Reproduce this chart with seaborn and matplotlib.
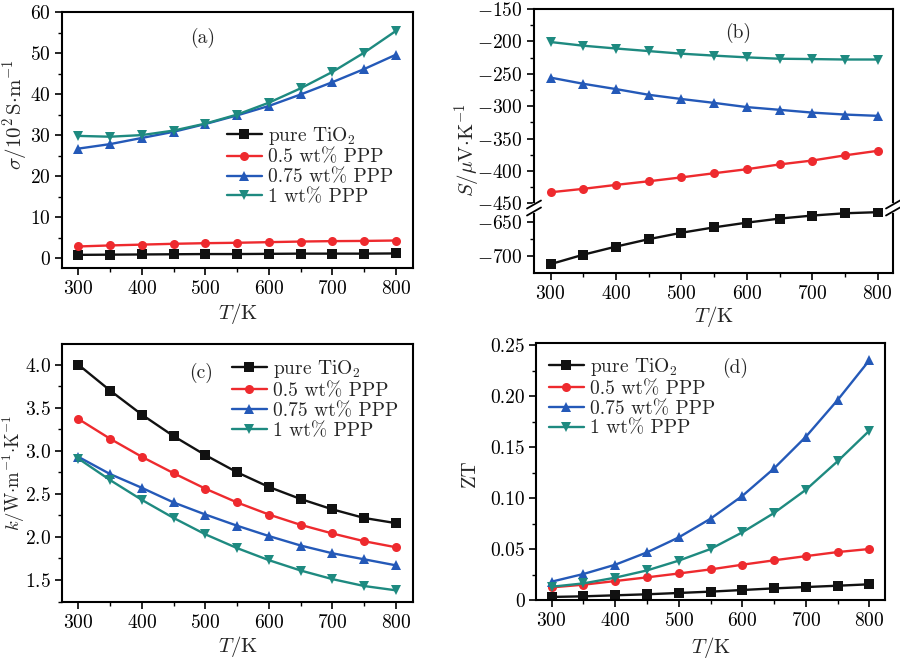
import numpy as np
import pandas as pd
import matplotlib
matplotlib.use("Agg")
import matplotlib.pyplot as plt
from matplotlib.ticker import MultipleLocator, FixedLocator, FixedFormatter
import seaborn as sns

# ---------------- data ----------------
T = [300, 350, 400, 450, 500, 550, 600, 650, 700, 750, 800]
samples = ["pure TiO$_2$", "0.5 wt% PPP", "0.75 wt% PPP", "1 wt% PPP"]

sigma_pure = [0.8, 0.85, 0.9, 0.95, 1.0, 1.0, 1.05, 1.1, 1.1, 1.1, 1.15]
sigma_05 = [2.85, 3.1, 3.3, 3.5, 3.65, 3.75, 3.9, 4.05, 4.15, 4.2, 4.3]
sigma_075 = [26.7, 27.8, 29.3, 30.8, 32.7, 34.8, 37.1, 39.9, 42.9, 46.1, 49.6]
sigma_1 = [29.8, 29.6, 30.0, 31.1, 32.8, 35.0, 37.9, 41.4, 45.4, 50.1, 55.4]

S_pure = [-712, -698, -686, -675, -665.5, -657.5, -650.5, -644.5, -640, -636.6, -635]
S_05 = [-433, -427.7, -421.6, -416, -410, -403.6, -397.4, -390, -384, -376, -369]
S_075 = [-256, -265.5, -273.7, -282.5, -289, -295, -301.5, -305.7, -310, -313, -315]
S_1 = [-201, -206.7, -211, -215, -219, -222, -224.7, -226.8, -227.3, -228, -228]

k_pure = [4.0, 3.70, 3.42, 3.17, 2.95, 2.75, 2.58, 2.44, 2.32, 2.22, 2.16]
k_05 = [3.37, 3.14, 2.93, 2.74, 2.56, 2.40, 2.26, 2.14, 2.04, 1.95, 1.88]
k_075 = [2.93, 2.73, 2.57, 2.40, 2.26, 2.13, 2.01, 1.90, 1.81, 1.74, 1.67]
k_1 = [2.91, 2.66, 2.43, 2.22, 2.03, 1.87, 1.73, 1.61, 1.51, 1.43, 1.38]

ZT_pure = [0.003, 0.0036, 0.0046, 0.0056, 0.0069, 0.0082, 0.0098, 0.0114, 0.0127, 0.014, 0.0154]
ZT_05 = [0.0124, 0.015, 0.0186, 0.0222, 0.026, 0.030, 0.0346, 0.0389, 0.043, 0.047, 0.050]
ZT_075 = [0.018, 0.0255, 0.0346, 0.0467, 0.0614, 0.0797, 0.102, 0.129, 0.160, 0.196, 0.235]
ZT_1 = [0.013, 0.0163, 0.0219, 0.029, 0.0386, 0.050, 0.0663, 0.0853, 0.108, 0.136, 0.166]

zt_ticks = [0, 0.05, 0.10, 0.15, 0.20, 0.25]
zt_ticklabels = ["0", "0.05", "0.10", "0.15", "0.20", "0.25"]

# ---------------- style ----------------
sns.set_theme(style="ticks")
plt.rcParams.update({
    "font.family": ["cmr10", "DejaVu Serif"],
    "mathtext.fontset": "cm",
    "axes.formatter.use_mathtext": True,
    "axes.unicode_minus": True,
    "axes.linewidth": 1.5,
    "axes.edgecolor": "black",
    "xtick.color": "black",
    "ytick.color": "black",
    "xtick.labelsize": 14,
    "ytick.labelsize": 14,
    "axes.labelsize": 15,
    "xtick.major.size": 5,
    "ytick.major.size": 5,
    "xtick.minor.size": 3,
    "ytick.minor.size": 3,
    "xtick.major.width": 1.2,
    "ytick.major.width": 1.2,
    "xtick.minor.width": 1.0,
    "ytick.minor.width": 1.0,
    "xtick.direction": "out",
    "ytick.direction": "out",
    "xtick.major.pad": 4,
    "ytick.major.pad": 3,
})

colors = ["#111111", "#ee2a2e", "#2459b8", "#1e8a80"]
palette = dict(zip(samples, colors))
markers = dict(zip(samples, ["s", "o", "^", "v"]))


def long_df(series):
    rows = []
    for name, vals in zip(samples, series):
        for t, v in zip(T, vals):
            rows.append({"T": t, "v": v, "sample": name})
    return pd.DataFrame(rows)


def draw(ax, df, legend=False):
    sns.lineplot(data=df, x="T", y="v", hue="sample", style="sample",
                 hue_order=samples, style_order=samples, palette=palette,
                 markers=markers, dashes=False, markersize=6.5,
                 markeredgewidth=0, linewidth=1.7, ax=ax, legend=legend)


def xstyle(ax, xlim):
    ax.set_xlim(*xlim)
    ax.xaxis.set_major_locator(MultipleLocator(100))
    ax.xaxis.set_minor_locator(MultipleLocator(50))
    ax.tick_params(top=False, right=False, which="both")


W, H = 900, 660
fig = plt.figure(figsize=(9, 6.6), dpi=100)


def rect(l, r, t, b):
    return [l / W, 1 - b / H, (r - l) / W, (b - t) / H]


def leg(ax, x, y):
    ax.legend(loc="upper left", bbox_to_anchor=(x, y), frameon=False,
              fontsize=14, handlelength=1.8, handletextpad=0.3,
              labelspacing=0.1, borderpad=0, borderaxespad=0)


# (a)
axa = fig.add_axes(rect(62, 413, 12, 268))
draw(axa, long_df([sigma_pure, sigma_05, sigma_075, sigma_1]), legend=True)
xstyle(axa, (274.3, 826.8))
axa.set_ylim(-2.4, 60)
axa.yaxis.set_major_locator(MultipleLocator(10))
axa.yaxis.set_minor_locator(MultipleLocator(5))
axa.set_xlabel(r"$T/\mathrm{K}$")
axa.set_ylabel(r"$\sigma/10^2\,\mathrm{S{\cdot}m^{-1}}$")
axa.xaxis.set_label_coords(0.5, -0.13)
axa.yaxis.set_label_coords(-0.09, 0.6)
leg(axa, 0.47, 0.56)

# (b) broken axis
axb_up = fig.add_axes(rect(534, 893, 9, 208))
axb_lo = fig.add_axes(rect(534, 893, 208, 273))
dfb = long_df([S_pure, S_05, S_075, S_1])
draw(axb_up, dfb)
draw(axb_lo, dfb)
for ax in (axb_up, axb_lo):
    xstyle(ax, (274.5, 823.4))
axb_up.set_ylim(-457.3, -150)
axb_lo.set_ylim(-725.2, -628.8)
axb_up.yaxis.set_major_locator(MultipleLocator(50))
axb_up.yaxis.set_minor_locator(MultipleLocator(25))
axb_lo.yaxis.set_major_locator(FixedLocator([-700, -650]))
axb_lo.yaxis.set_minor_locator(FixedLocator([-675]))
axb_up.spines["bottom"].set_visible(False)
axb_lo.spines["top"].set_visible(False)
axb_up.tick_params(axis="x", which="both", bottom=False, labelbottom=False)
axb_up.set_xlabel("")
axb_up.set_ylabel("")
axb_lo.set_ylabel("")
axb_lo.set_xlabel(r"$T/\mathrm{K}$")
axb_lo.xaxis.set_label_coords(0.5, -0.48)
fig.text(467 / W, 1 - 150 / H, r"$S/\mathrm{\mu V{\cdot}K^{-1}}$", rotation=90,
         ha="center", va="center", fontsize=15)
# break marks
for xf in (534, 893):
    x0 = xf / W
    yb = 1 - 208 / H
    fig.add_artist(plt.Line2D([x0, x0], [yb - 3 / H, yb + 3 / H], color="white",
                              lw=3, transform=fig.transFigure))
    for dy in (-3.5, 3.5):
        fig.add_artist(plt.Line2D([x0 - 7 / W, x0 + 7 / W],
                                  [yb + dy / H - 4 / H, yb + dy / H + 4 / H],
                                  color="black", lw=1.3, transform=fig.transFigure))

# (c)
axc = fig.add_axes(rect(62, 413, 344, 601.7))
draw(axc, long_df([k_pure, k_05, k_075, k_1]), legend=True)
xstyle(axc, (274.3, 826.8))
axc.set_ylim(1.248, 4.24)
axc.yaxis.set_major_locator(MultipleLocator(0.5))
axc.yaxis.set_minor_locator(MultipleLocator(0.25))
axc.set_xlabel(r"$T/\mathrm{K}$")
axc.set_ylabel("")
fig.text(14 / W, 1 - 473 / H, r"$k/\mathrm{W{\cdot}m^{-1}{\cdot}K^{-1}}$", rotation=90,
         ha="center", va="center", fontsize=13.5)
axc.xaxis.set_label_coords(0.5, -0.125)
leg(axc, 0.484, 0.945)

# (d)
axd = fig.add_axes(rect(536, 885, 343.3, 600))
draw(axd, long_df([ZT_pure, ZT_05, ZT_075, ZT_1]), legend=True)
xstyle(axd, (275.3, 824.7))
axd.set_ylim(0, 0.2517)
axd.yaxis.set_major_locator(FixedLocator(zt_ticks))
axd.yaxis.set_major_formatter(FixedFormatter(zt_ticklabels))
axd.yaxis.set_minor_locator(MultipleLocator(0.025))
axd.set_xlabel(r"$T/\mathrm{K}$")
axd.set_ylabel("ZT")
axd.xaxis.set_label_coords(0.5, -0.135)
axd.yaxis.set_label_coords(-0.165, 0.495)
leg(axd, 0.037, 0.95)

# panel labels
for txt, (x, y) in zip(["(a)", "(b)", "(c)", "(d)"],
                       [(203, 38), (738, 33), (201, 373), (735, 368)]):
    fig.text(x / W, 1 - y / H, txt, ha="center", va="center", fontsize=14)

fig.savefig("out.png", dpi=100, facecolor="white")
